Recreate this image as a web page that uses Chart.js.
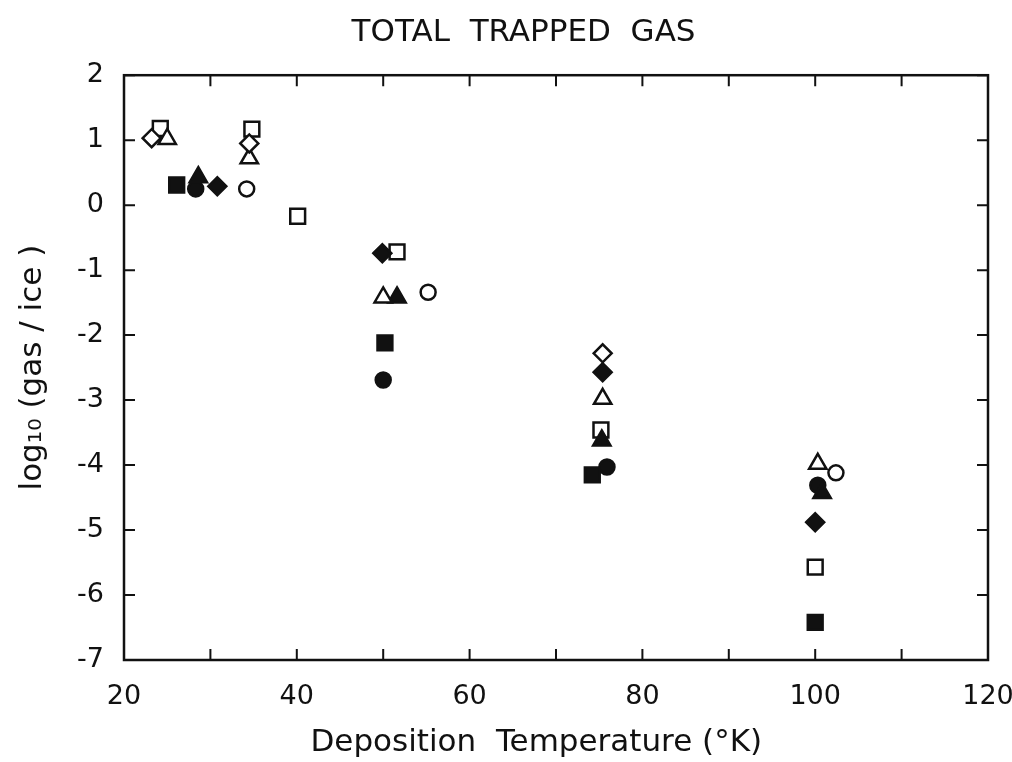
<!DOCTYPE html>
<html>
<head>
<meta charset="utf-8">
<title>Total Trapped Gas</title>
<script src="https://cdn.jsdelivr.net/npm/chart.js@4/dist/chart.umd.min.js"></script>
<style>
	html, body { margin: 0; padding: 0; background: #fff; }
	#wrapper-app { width: 1012px; height: 762px; }
</style>
</head>
<body>
<div id="wrapper-app"><canvas id="chart-1" width="1012" height="762"></canvas></div>
<script>
// values, one pair of arrays per marker
var openDiamondX = [23.2, 34.5, 75.4];
var openDiamondY = [1.03, 0.95, -2.28];
var fillDiamondX = [30.8, 49.9, 75.4, 100.0];
var fillDiamondY = [0.29, -0.74, -2.57, -4.88];
var openTriangleX = [25.0, 34.5, 50.0, 75.4, 100.3];
var openTriangleY = [1.02, 0.72, -1.42, -2.98, -3.98];
var fillTriangleX = [28.6, 51.6, 75.3, 100.8];
var fillTriangleY = [0.43, -1.42, -3.62, -4.43];
var openSquareX = [24.2, 34.8, 40.1, 51.6, 75.2, 100.0];
var openSquareY = [1.18, 1.17, -0.17, -0.72, -3.46, -5.57];
var fillSquareX = [26.1, 50.2, 74.2, 100.0];
var fillSquareY = [0.31, -2.12, -4.15, -6.42];
var openCircleX = [34.2, 55.2, 102.4];
var openCircleY = [0.25, -1.34, -4.12];
var fillCircleX = [28.3, 50.0, 75.9, 100.3];
var fillCircleY = [0.25, -2.69, -4.03, -4.31];

var xTicks = [20, 40, 60, 80, 100, 120];
var yTicks = [2, 1, 0, -1, -2, -3, -4, -5, -6, -7];

var app = (function(){
	var
		fontFamily = '"DejaVu Sans", sans-serif'
		,ink = '#111'
		,chart;

	function _points(xs, ys){
		return xs.map(function(x, i){ return {x: x, y: ys[i]}; });
	}

	function _set(label, xs, ys, style, filled, radius){
		return {
			label: label,
			data: _points(xs, ys),
			pointStyle: style,
			pointRadius: radius,
			pointBorderWidth: 2.5,
			pointBorderColor: ink,
			pointBackgroundColor: filled ? ink : '#fff',
			showLine: false
		};
	}

	// frame and inward ticks on all four sides
	var framePlugin = {
		id: 'frame',
		afterDatasetsDraw: function(c){
			var a = c.chartArea, ctx = c.ctx, xs = c.scales.x, ys = c.scales.y;
			ctx.save();
			ctx.strokeStyle = ink;
			ctx.lineWidth = 2.5;
			ctx.strokeRect(a.left, a.top, a.right - a.left, a.bottom - a.top);
			ctx.lineWidth = 2;
			ctx.beginPath();
			xs.ticks.forEach(function(t){
				var px = xs.getPixelForValue(t.value);
				ctx.moveTo(px, a.bottom); ctx.lineTo(px, a.bottom - 11);
				ctx.moveTo(px, a.top); ctx.lineTo(px, a.top + 11);
			});
			ys.ticks.forEach(function(t){
				var py = ys.getPixelForValue(t.value);
				ctx.moveTo(a.left, py); ctx.lineTo(a.left + 11, py);
				ctx.moveTo(a.right, py); ctx.lineTo(a.right - 11, py);
			});
			ctx.stroke();
			ctx.restore();
		}
	};

	function init(){
		var ctx = document.getElementById('chart-1');
		chart = new Chart(ctx, {
			type: 'scatter',
			data: {
				datasets: [
					_set('open diamond', openDiamondX, openDiamondY, 'rectRot', false, 9),
					_set('filled diamond', fillDiamondX, fillDiamondY, 'rectRot', true, 9),
					_set('open triangle', openTriangleX, openTriangleY, 'triangle', false, 10),
					_set('filled triangle', fillTriangleX, fillTriangleY, 'triangle', true, 10),
					_set('open square', openSquareX, openSquareY, 'rect', false, 10.5),
					_set('filled square', fillSquareX, fillSquareY, 'rect', true, 10.5),
					_set('open circle', openCircleX, openCircleY, 'circle', false, 7.5),
					_set('filled circle', fillCircleX, fillCircleY, 'circle', true, 7.5)
				]
			},
			options: {
				responsive: false,
				animation: false,
				layout: { padding: { left: 0, right: 24, top: 0, bottom: 0 } },
				plugins: {
					legend: { display: false },
					tooltip: { enabled: false },
					title: {
						display: true,
						// leading spaces nudge the title right, as in the scan
						text: '      TOTAL  TRAPPED  GAS',
						color: ink,
						font: { family: fontFamily, size: 31, weight: 'normal' },
						padding: { top: 14, bottom: 24 }
					}
				},
				scales: {
					x: {
						type: 'linear',
						min: 20,
						max: 120,
						afterFit: function(s){
							s.height = 102;
							s.paddingLeft = 0;
							s.paddingRight = 0;
						},
						grid: { display: false },
						border: { display: false },
						ticks: {
							stepSize: 10,
							color: ink,
							padding: 13,
							maxRotation: 0,
							autoSkip: false,
							font: { family: fontFamily, size: 27 },
							callback: function(v){ return xTicks.indexOf(v) >= 0 ? String(v) : ''; }
						},
						title: {
							display: true,
							text: 'Deposition  Temperature (°K)    ',
							color: ink,
							font: { family: fontFamily, size: 31 },
							padding: { top: 6, bottom: 0 }
						}
					},
					y: {
						min: -7,
						max: 2,
						afterFit: function(s){ s.width = 124; },
						grid: { display: false },
						border: { display: false },
						ticks: {
							stepSize: 1,
							color: ink,
							padding: 12,
							autoSkip: false,
							font: { family: fontFamily, size: 27 },
							callback: function(v){ return yTicks.indexOf(v) >= 0 ? String(v) : ''; }
						},
						title: {
							display: true,
							text: 'log₁₀ (gas / ice )',
							color: ink,
							font: { family: fontFamily, size: 31 },
							padding: { top: 14, bottom: 8 }
						}
					}
				}
			},
			plugins: [framePlugin]
		});
	}

	return {
		init: init
	};
})();

app.init();
</script>
</body>
</html>
